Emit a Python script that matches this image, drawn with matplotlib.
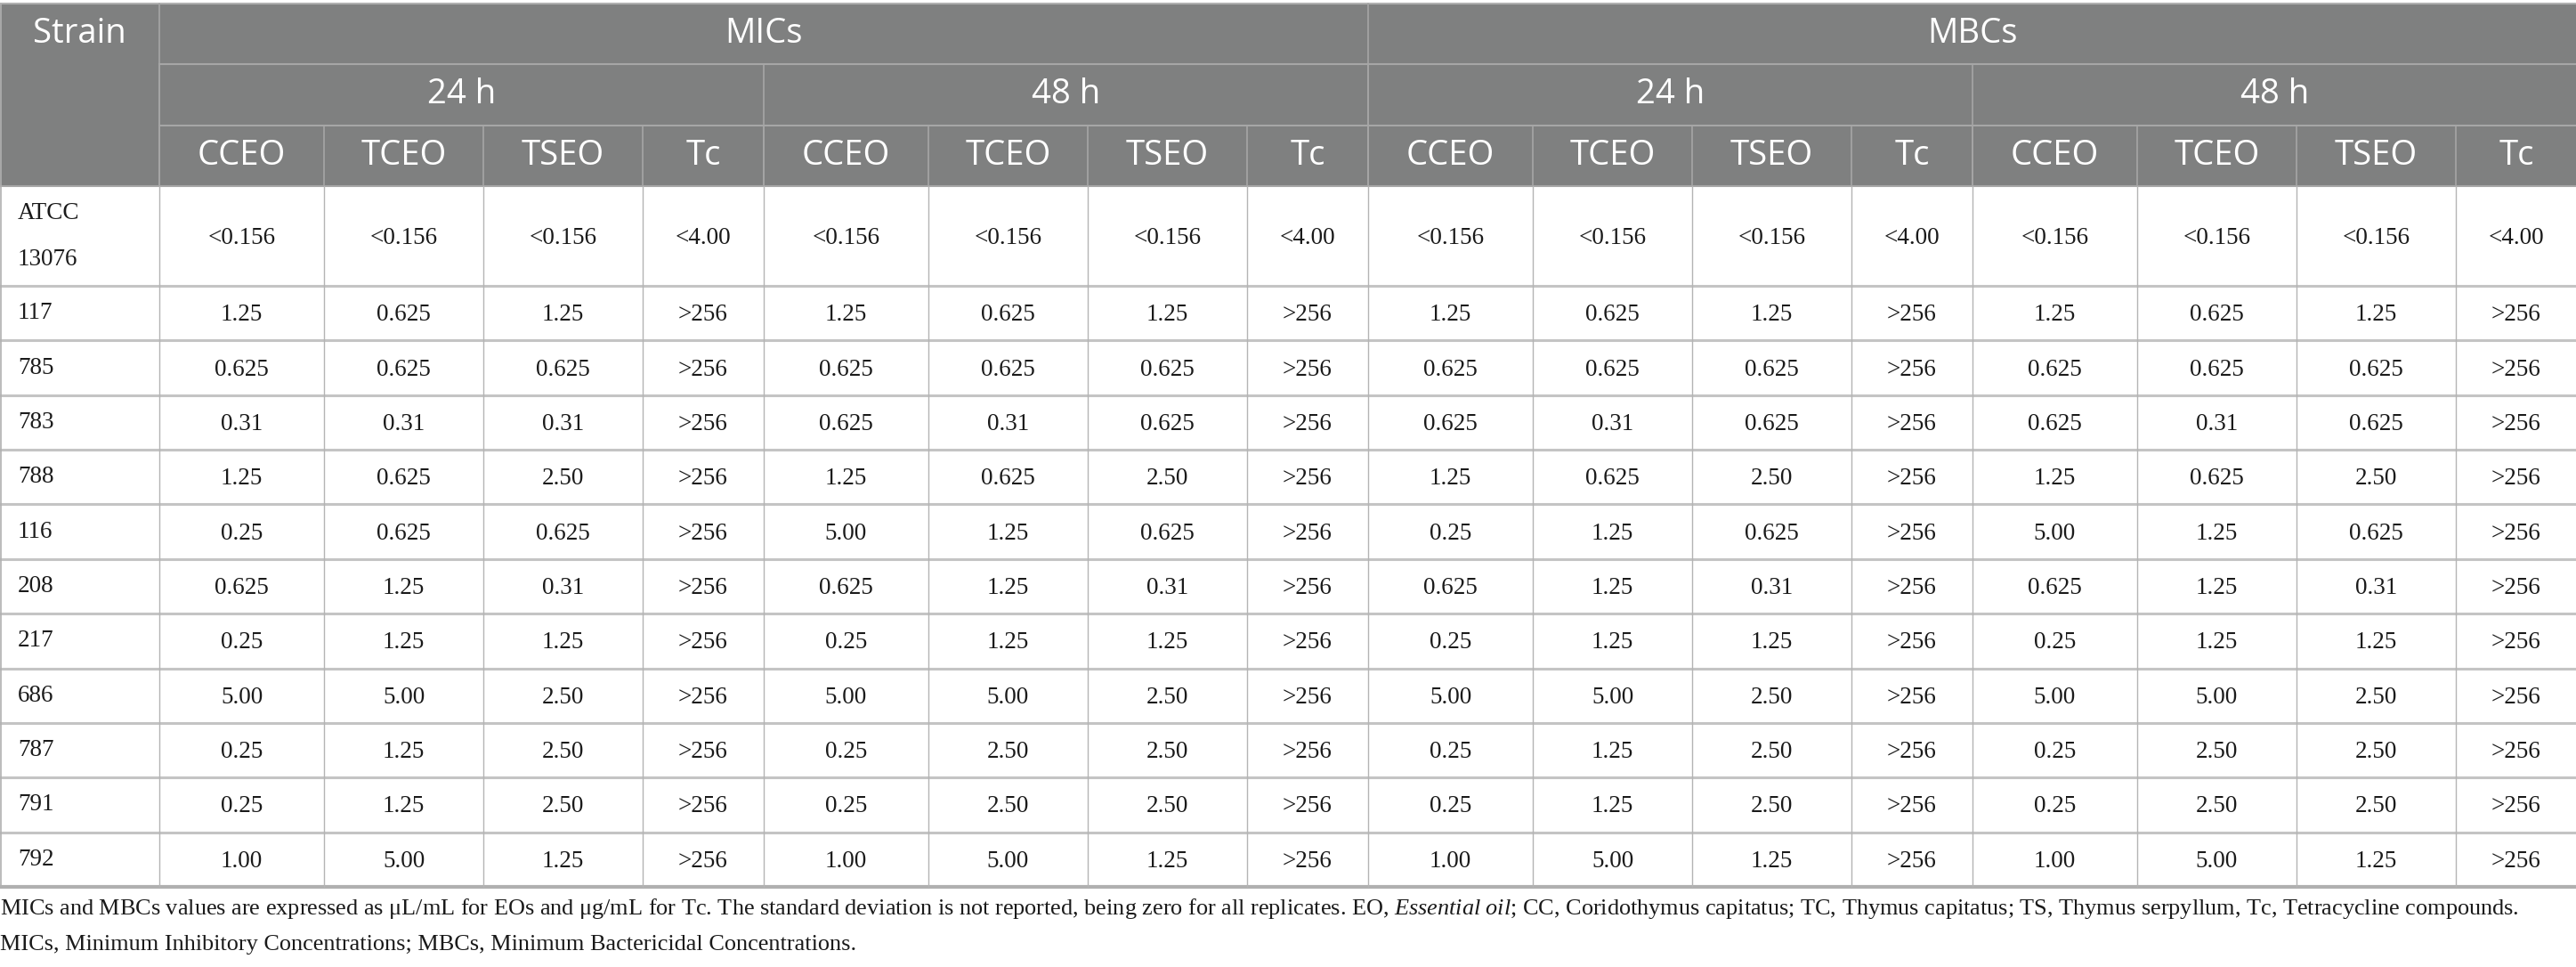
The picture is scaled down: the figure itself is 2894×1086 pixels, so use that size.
import matplotlib
matplotlib.use("Agg")
import matplotlib.pyplot as plt
from matplotlib.patches import Rectangle

plt.rcParams["mathtext.fontset"] = "custom"
plt.rcParams["mathtext.rm"] = "Liberation Serif"
plt.rcParams["mathtext.it"] = "Liberation Serif:italic"

# ---------------- data ----------------
strains = ["ATCC\n13076", "117", "785", "783", "788", "116", "208", "217",
           "686", "787", "791", "792"]
groups = ["MICs", "MBCs"]
times = ["24 h", "48 h"]
compounds = ["CCEO", "TCEO", "TSEO", "Tc"]

mic24_cceo = ["<0.156", "1.25", "0.625", "0.31", "1.25", "0.25", "0.625", "0.25", "5.00", "0.25", "0.25", "1.00"]
mic24_tceo = ["<0.156", "0.625", "0.625", "0.31", "0.625", "0.625", "1.25", "1.25", "5.00", "1.25", "1.25", "5.00"]
mic24_tseo = ["<0.156", "1.25", "0.625", "0.31", "2.50", "0.625", "0.31", "1.25", "2.50", "2.50", "2.50", "1.25"]
mic24_tc = ["<4.00"] + [">256"] * 11

mic48_cceo = ["<0.156", "1.25", "0.625", "0.625", "1.25", "5.00", "0.625", "0.25", "5.00", "0.25", "0.25", "1.00"]
mic48_tceo = ["<0.156", "0.625", "0.625", "0.31", "0.625", "1.25", "1.25", "1.25", "5.00", "2.50", "2.50", "5.00"]
mic48_tseo = ["<0.156", "1.25", "0.625", "0.625", "2.50", "0.625", "0.31", "1.25", "2.50", "2.50", "2.50", "1.25"]
mic48_tc = ["<4.00"] + [">256"] * 11

mbc24_cceo = ["<0.156", "1.25", "0.625", "0.625", "1.25", "0.25", "0.625", "0.25", "5.00", "0.25", "0.25", "1.00"]
mbc24_tceo = ["<0.156", "0.625", "0.625", "0.31", "0.625", "1.25", "1.25", "1.25", "5.00", "1.25", "1.25", "5.00"]
mbc24_tseo = ["<0.156", "1.25", "0.625", "0.625", "2.50", "0.625", "0.31", "1.25", "2.50", "2.50", "2.50", "1.25"]
mbc24_tc = ["<4.00"] + [">256"] * 11

mbc48_cceo = ["<0.156", "1.25", "0.625", "0.625", "1.25", "5.00", "0.625", "0.25", "5.00", "0.25", "0.25", "1.00"]
mbc48_tceo = ["<0.156", "0.625", "0.625", "0.31", "0.625", "1.25", "1.25", "1.25", "5.00", "2.50", "2.50", "5.00"]
mbc48_tseo = ["<0.156", "1.25", "0.625", "0.625", "2.50", "0.625", "0.31", "1.25", "2.50", "2.50", "2.50", "1.25"]
mbc48_tc = ["<4.00"] + [">256"] * 11

columns = [mic24_cceo, mic24_tceo, mic24_tseo, mic24_tc,
           mic48_cceo, mic48_tceo, mic48_tseo, mic48_tc,
           mbc24_cceo, mbc24_tceo, mbc24_tseo, mbc24_tc,
           mbc48_cceo, mbc48_tceo, mbc48_tseo, mbc48_tc]

footnote1 = ("MICs and MBCs values are expressed as \u03bcL/mL for EOs and \u03bcg/mL for Tc. "
             "The standard deviation is not reported, being zero for all replicates. EO, "
             r"$\it{Essential\ oil}$"
             "; CC, Coridothymus capitatus; TC, Thymus capitatus; TS, Thymus serpyllum, "
             "Tc, Tetracycline compounds.")
footnote2 = "MICs, Minimum Inhibitory Concentrations; MBCs, Minimum Bactericidal Concentrations."

# ---------------- layout ----------------
W, H = 2894, 1086
fig = plt.figure(figsize=(W / 100, H / 100), dpi=100)
ax = fig.add_axes([0, 0, 1, 1])
ax.set_xlim(0, W)
ax.set_ylim(H, 0)
ax.axis("off")

strain_w = 179
comp_w = [185, 179, 179, 136]
col_w = [strain_w] + comp_w * 4
edges = [0]
for w in col_w:
    edges.append(edges[-1] + w)
right = edges[-1]

top = 4
hdr = [top, 72, 141, 209]
first_row_h = 112
data_h = (996 - (hdr[-1] + first_row_h)) / 11
row_edges = [hdr[-1], hdr[-1] + first_row_h]
for i in range(11):
    row_edges.append(row_edges[-1] + data_h)
bottom = row_edges[-1]

HDR_BG = "#7f8080"
HDR_LINE = "#a6a6a6"
BODY_LINE = "#c4c4c4"
VLINE = "#b4b4b4"

ax.add_patch(Rectangle((0, top), right, hdr[-1] - top, facecolor=HDR_BG, edgecolor="none", zorder=1))

sans = ["Open Sans", "DejaVu Sans"]
serif = ["Liberation Serif", "DejaVu Serif"]
hfs = 27.5
bfs = 19.5

# header lines
ax.plot([0, right], [top, top], color="#b0b0b0", lw=1.5, zorder=2)
ax.plot([edges[1], right], [hdr[1], hdr[1]], color=HDR_LINE, lw=1.5, zorder=2)
ax.plot([edges[1], right], [hdr[2], hdr[2]], color=HDR_LINE, lw=1.5, zorder=2)
ax.plot([0, right], [hdr[3], hdr[3]], color=HDR_LINE, lw=1.5, zorder=2)

# header vertical lines
ax.plot([edges[1]] * 2, [top, hdr[3]], color=HDR_LINE, lw=1.2, zorder=2)
ax.plot([edges[9]] * 2, [top, hdr[3]], color=HDR_LINE, lw=1.2, zorder=2)
for g in range(4):
    x = edges[1 + 4 * g]
    ax.plot([x, x], [hdr[1], hdr[3]], color=HDR_LINE, lw=1.2, zorder=2)
for c in range(1, 17):
    ax.plot([edges[c]] * 2, [hdr[2], hdr[3]], color=HDR_LINE, lw=1.2, zorder=2)

# header text
ax.text(edges[1] / 2, (hdr[0] + hdr[1]) / 2, "Strain", ha="center", va="center",
        color="white", fontsize=hfs, family=sans, zorder=3)
for gi, g in enumerate(groups):
    x0, x1 = edges[1 + 8 * gi], edges[9 + 8 * gi]
    ax.text((x0 + x1) / 2, (hdr[0] + hdr[1]) / 2, g, ha="center", va="center",
            color="white", fontsize=hfs, family=sans, zorder=3)
    for ti, t in enumerate(times):
        a, b = edges[1 + 8 * gi + 4 * ti], edges[5 + 8 * gi + 4 * ti]
        ax.text((a + b) / 2, (hdr[1] + hdr[2]) / 2, t, ha="center", va="center",
                color="white", fontsize=hfs, family=sans, zorder=3)
        for ci, cname in enumerate(compounds):
            k = 1 + 8 * gi + 4 * ti + ci
            ax.text((edges[k] + edges[k + 1]) / 2, (hdr[2] + hdr[3]) / 2, cname,
                    ha="center", va="center", color="white", fontsize=hfs,
                    family=sans, zorder=3)

# body lines
for y in row_edges[1:-1]:
    ax.plot([0, right], [y, y], color=BODY_LINE, lw=2.2, zorder=2)
ax.plot([0, right], [bottom, bottom], color="#b0b0b0", lw=3, zorder=2)
for c in range(1, 17):
    ax.plot([edges[c]] * 2, [hdr[3], bottom], color=VLINE, lw=1.0, zorder=2)
ax.plot([1, 1], [top, bottom], color="#b0b0b0", lw=1.2, zorder=2)
ax.plot([right, right], [top, bottom], color="#b0b0b0", lw=1.2, zorder=2)

# body text
for r, s in enumerate(strains):
    yc = (row_edges[r] + row_edges[r + 1]) / 2
    if "\n" in s:
        l1, l2 = s.split("\n")
        ax.text(20, yc - 25, l1, ha="left", va="center", fontsize=bfs, family=serif, color="#1a1a1a")
        ax.text(20, yc + 27, l2, ha="left", va="center", fontsize=bfs, family=serif, color="#1a1a1a")
    else:
        ax.text(20, yc, s, ha="left", va="center", fontsize=bfs, family=serif, color="#1a1a1a")
    for c, col in enumerate(columns):
        ax.text((edges[c + 1] + edges[c + 2]) / 2, yc + 2, col[r], ha="center", va="center",
                fontsize=bfs, family=serif, color="#1a1a1a")

# footnotes
ax.text(0, 1021, footnote1, ha="left", va="center", fontsize=18.9, family=serif, color="#1a1a1a")
ax.text(0, 1061, footnote2, ha="left", va="center", fontsize=18.9, family=serif, color="#1a1a1a")

fig.savefig("out.png", dpi=100, facecolor="white")
